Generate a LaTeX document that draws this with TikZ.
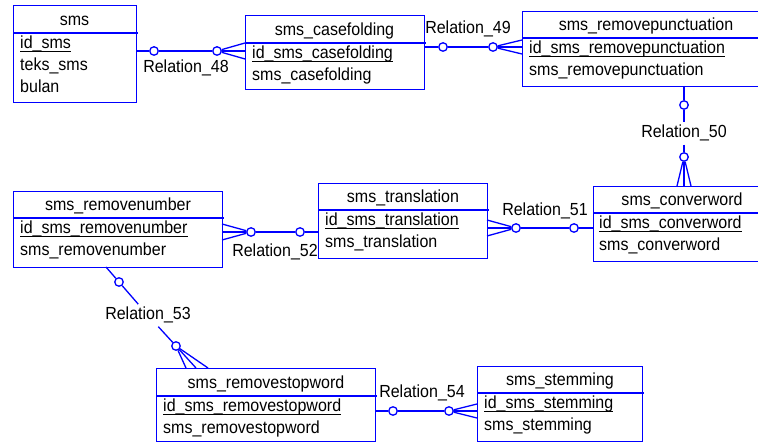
\documentclass[tikz,border=0pt]{standalone}
\usepackage{fontspec}
\setmainfont[FakeStretch=0.915]{Liberation Sans}
\newcommand{\pkul}[1]{\setbox0\hbox{#1}\rlap{\rule[-2.6pt]{\wd0}{0.9pt}}\box0}

\begin{document}
\begin{tikzpicture}[x=1pt, y=-1pt,
    font=\fontsize{17.5}{20}\selectfont,
    entity/.style={draw=blue, line width=1.3pt, anchor=north west, inner sep=0pt},
    ttl/.style={anchor=base, inner sep=0pt},
    attr/.style={anchor=base west, inner sep=0pt},
    sep/.style={draw=blue, line width=1.3pt},
    rel/.style={draw=blue, line width=1.3pt},
    opt/.style={circle, draw=blue, line width=1.3pt, fill=white, minimum size=8.5pt, inner sep=0pt},
    lbl/.style={anchor=base, inner sep=3pt}]
    \useasboundingbox (0,0) rectangle (758,443);
    \clip (0,0) rectangle (758,443);

    % Entities
    \node[entity, minimum width=123, minimum height=97] (sms) at (13,5) {};
    \node[ttl] (smsT) at (74.5,26) {sms};
    \draw[sep] (13,33) -- (138,33);
    \node[attr] (sms1) at (20,49) {\pkul{id\_sms}};
    \node[attr] (sms2) at (20,71) {teks\_sms};
    \node[attr] (sms3) at (20,93) {bulan};

    \node[entity, minimum width=179, minimum height=74] (casefold) at (245,15) {};
    \node[ttl] (casefoldT) at (334.5,36) {sms\_casefolding};
    \draw[sep] (245,43) -- (426,43);
    \node[attr] (casefold1) at (252,59) {\pkul{id\_sms\_casefolding}};
    \node[attr] (casefold2) at (252,81) {sms\_casefolding};

    \node[entity, minimum width=248, minimum height=75] (punct) at (522,11) {};
    \node[ttl] (punctT) at (646,31) {sms\_removepunctuation};
    \draw[sep] (522,38) -- (770,38);
    \node[attr] (punct1) at (529,54) {\pkul{id\_sms\_removepunctuation}};
    \node[attr] (punct2) at (529,76) {sms\_removepunctuation};

    \node[entity, minimum width=178, minimum height=75] (conver) at (593,186) {};
    \node[ttl] (converT) at (682,206) {sms\_converword};
    \draw[sep] (593,213) -- (771,213);
    \node[attr] (conver1) at (599,229) {\pkul{id\_sms\_converword}};
    \node[attr] (conver2) at (599,251) {sms\_converword};

    \node[entity, minimum width=169, minimum height=75] (transl) at (318,183) {};
    \node[ttl] (translT) at (403,203) {sms\_translation};
    \draw[sep] (318,210) -- (489,210);
    \node[attr] (transl1) at (325,226) {\pkul{id\_sms\_translation}};
    \node[attr] (transl2) at (325,248) {sms\_translation};

    \node[entity, minimum width=209, minimum height=76] (removenum) at (13,191) {};
    \node[ttl] (removenumT) at (118,211) {sms\_removenumber};
    \draw[sep] (13,218) -- (224,218);
    \node[attr] (removenum1) at (20,234) {\pkul{id\_sms\_removenumber}};
    \node[attr] (removenum2) at (20,256) {sms\_removenumber};

    \node[entity, minimum width=219, minimum height=73] (stopword) at (156,368) {};
    \node[ttl] (stopwordT) at (266,389) {sms\_removestopword};
    \draw[sep] (156,396) -- (377,396);
    \node[attr] (stopword1) at (163,412) {\pkul{id\_sms\_removestopword}};
    \node[attr] (stopword2) at (163,434) {sms\_removestopword};

    \node[entity, minimum width=165, minimum height=75] (stem) at (477,366) {};
    \node[ttl] (stemT) at (560,386) {sms\_stemming};
    \draw[sep] (477,393) -- (644,393);
    \node[attr] (stem1) at (484,409) {\pkul{id\_sms\_stemming}};
    \node[attr] (stem2) at (484,431) {sms\_stemming};

    % Relation_48
    \coordinate (r48a) at (136,51);
    \coordinate (r48b) at (245,51);
    \node[opt] (o48a) at (154,51) {};
    \node[opt] (o48b) at (217,51) {};
    \node[lbl] (l48) at (186,73) {Relation\_48};
    \draw[rel] (r48a) -- (o48a) -- (o48b);
    \draw[rel] (o48b) -- (r48b);
    \draw[rel] (o48b) -- ([yshift=8pt]r48b);
    \draw[rel] (o48b) -- ([yshift=-8pt]r48b);

    % Relation_49
    \coordinate (r49a) at (424,47);
    \coordinate (r49b) at (522,47);
    \node[opt] (o49a) at (443,47) {};
    \node[opt] (o49b) at (493,47) {};
    \node[lbl] (l49) at (468,34) {Relation\_49};
    \draw[rel] (r49a) -- (o49a) -- (o49b);
    \draw[rel] (o49b) -- (r49b);
    \draw[rel] (o49b) -- ([yshift=7pt]r49b);
    \draw[rel] (o49b) -- ([yshift=-7pt]r49b);

    % Relation_50
    \coordinate (r50a) at (684,86);
    \coordinate (r50b) at (684,186);
    \node[opt] (o50a) at (684,105) {};
    \node[opt] (o50b) at (684,157) {};
    \node[lbl] (l50) at (684,138) {Relation\_50};
    \draw[rel] (r50a) -- (o50a) -- (l50) -- (o50b);
    \draw[rel] (o50b) -- (r50b);
    \draw[rel] (o50b) -- ([xshift=-7pt]r50b);
    \draw[rel] (o50b) -- ([xshift=7pt]r50b);

    % Relation_51
    \coordinate (r51a) at (487,228);
    \coordinate (r51b) at (593,228);
    \node[opt] (o51a) at (516,228) {};
    \node[opt] (o51b) at (574,228) {};
    \node[lbl] (l51) at (545,216) {Relation\_51};
    \draw[rel] (r51b) -- (o51b) -- (o51a);
    \draw[rel] (o51a) -- (r51a);
    \draw[rel] (o51a) -- ([yshift=8pt]r51a);
    \draw[rel] (o51a) -- ([yshift=-8pt]r51a);

    % Relation_52
    \coordinate (r52a) at (222,232);
    \coordinate (r52b) at (318,232);
    \node[opt] (o52a) at (251,232) {};
    \node[opt] (o52b) at (300,232) {};
    \node[lbl] (l52) at (275,257) {Relation\_52};
    \draw[rel] (r52b) -- (o52b) -- (o52a);
    \draw[rel] (o52a) -- (r52a);
    \draw[rel] (o52a) -- ([yshift=8pt]r52a);
    \draw[rel] (o52a) -- ([yshift=-8pt]r52a);

    % Relation_53
    \coordinate (r53a) at (106,267);
    \coordinate (r53b) at (196,368);
    \node[opt] (o53a) at (119,282) {};
    \node[opt] (o53b) at (176,346) {};
    \node[lbl] (l53) at (148,320) {Relation\_53};
    \draw[rel] (r53a) -- (o53a) -- (l53) -- (o53b);
    \draw[rel] (o53b) -- (r53b);
    \draw[rel] (o53b) -- ([xshift=-10pt]r53b);
    \draw[rel] (o53b) -- ([xshift=12pt]r53b);

    % Relation_54
    \coordinate (r54a) at (375,411);
    \coordinate (r54b) at (477,411);
    \node[opt] (o54a) at (393,411) {};
    \node[opt] (o54b) at (449,411) {};
    \node[lbl] (l54) at (422,398) {Relation\_54};
    \draw[rel] (r54a) -- (o54a) -- (o54b);
    \draw[rel] (o54b) -- (r54b);
    \draw[rel] (o54b) -- ([yshift=7pt]r54b);
    \draw[rel] (o54b) -- ([yshift=-7pt]r54b);
\end{tikzpicture}
\end{document}
